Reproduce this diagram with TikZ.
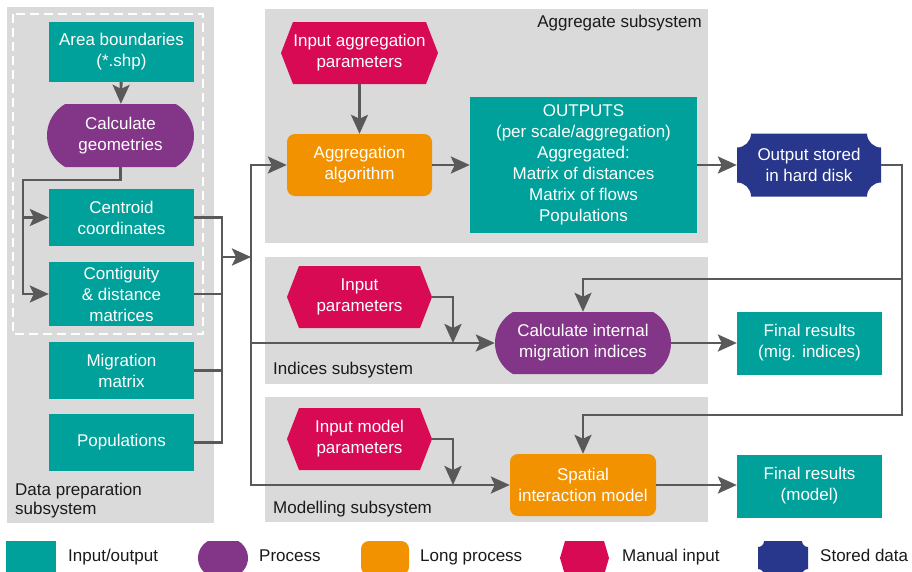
\documentclass[tikz,border=0pt]{standalone}
\usepackage{fontspec}
\setmainfont{Liberation Sans}
\usetikzlibrary{arrows.meta}
\definecolor{cteal}{HTML}{00A19A}
\definecolor{cpurple}{HTML}{833688}
\definecolor{corange}{HTML}{F39200}
\definecolor{ccrim}{HTML}{D70A53}
\definecolor{cnavy}{HTML}{28378C}
\definecolor{cpanel}{HTML}{DADADA}
\definecolor{cline}{HTML}{595959}
\definecolor{ctext}{HTML}{1A1A1A}
\newcommand\nfont{\fontsize{17}{21}\selectfont}
\newcommand\ofont{\fontsize{17}{20}\selectfont}
\newcommand\pfont{\fontsize{17}{18.5}\selectfont}
\tikzset{
  nd/.style={inner sep=0pt, align=center, text=white, font=\nfont},
  ln/.style={draw=cline, line width=2.8pt},
  arr/.style={ln, -{Stealth[length=19pt,width=17pt,inset=4pt]}},
  arrb/.style={ln, {Stealth[length=19pt,width=17pt,inset=4pt]}-{Stealth[length=19pt,width=17pt,inset=4pt]}},
  lbl/.style={inner sep=0pt, text=ctext, font=\nfont},
}
% name, x, y, w, h, text
\newcommand\ionode[6]{\node[nd,fill=cteal,minimum width=#4pt,minimum height=#5pt] (#1) at (#2,-#3) {#6};}
\newcommand\longnode[6]{\node[nd,fill=corange,rounded corners=8pt,minimum width=#4pt,minimum height=#5pt] (#1) at (#2,-#3) {#6};}
\newcommand\procnode[6]{%
  \fill[cpurple] ({#2-#4/2+#5*0.288675},{-#3+#5/2}) -- ({#2+#4/2-#5*0.288675},{-#3+#5/2})
    arc[start angle=60,end angle=-60,radius={#5*0.57735}]
    -- ({#2-#4/2+#5*0.288675},{-#3-#5/2})
    arc[start angle=240,end angle=120,radius={#5*0.57735}] -- cycle;
  \node[nd,minimum width=#4pt,minimum height=#5pt] (#1) at (#2,-#3) {#6};}
% name, x, y, w, h, indent, text
\newcommand\hexnode[7]{%
  \fill[ccrim] ({#2-#4/2},-#3) -- ({#2-#4/2+#6},{-#3+#5/2}) -- ({#2+#4/2-#6},{-#3+#5/2})
    -- ({#2+#4/2},-#3) -- ({#2+#4/2-#6},{-#3-#5/2}) -- ({#2-#4/2+#6},{-#3-#5/2}) -- cycle;
  \node[nd,minimum width=#4pt,minimum height=#5pt] (#1) at (#2,-#3) {#7};}
% name, x, y, w, h, r, text
\newcommand\storenode[7]{%
  \fill[cnavy] ({#2-#4/2+#6},{-#3+#5/2}) -- ({#2+#4/2-#6},{-#3+#5/2})
    arc[start angle=180,end angle=270,radius=#6] -- ({#2+#4/2},{-#3-#5/2+#6})
    arc[start angle=90,end angle=180,radius=#6] -- ({#2-#4/2+#6},{-#3-#5/2})
    arc[start angle=0,end angle=90,radius=#6] -- ({#2-#4/2},{-#3+#5/2-#6})
    arc[start angle=270,end angle=360,radius=#6] -- cycle;
  \node[nd,minimum width=#4pt,minimum height=#5pt] (#1) at (#2,-#3) {#7};}
\begin{document}
\begin{tikzpicture}[x=1pt,y=1pt]
\clip (0,0) rectangle (912,-571);
\fill[white] (0,0) rectangle (912,-571);
% panels
\fill[cpanel] (7,-7) rectangle (214,-523);
\fill[cpanel] (265,-9) rectangle (708,-243);
\fill[cpanel] (265,-257) rectangle (708,-384);
\fill[cpanel] (265,-397) rectangle (708,-522);
\draw[white, line width=2.5pt, dash pattern=on 9pt off 5pt] (13,-14) rectangle (203,-334);
% labels
\node[lbl,anchor=base east] (lagg) at (702,-27) {Aggregate subsystem};
\node[lbl,anchor=base west] (lind) at (273,-374) {Indices subsystem};
\node[lbl,anchor=base west] (lmod) at (273,-513) {Modelling subsystem};
\node[lbl,anchor=north west,align=left,font=\pfont] (lprep) at (15,-483) {Data preparation\\subsystem};
% data preparation
\ionode{area}{121.5}{52}{145}{60}{Area boundaries\\(*.shp)}
\procnode{geom}{120.5}{135.5}{147}{63}{Calculate\\geometries}
\ionode{centroid}{121.5}{217.5}{145}{57}{Centroid\\coordinates}
\ionode{contig}{121.5}{294}{145}{64}{Contiguity\\\& distance\\matrices}
\ionode{migm}{121.5}{370.5}{145}{57}{Migration\\matrix}
\ionode{pops}{121.5}{442.5}{145}{57}{Populations}
% aggregate
\hexnode{inagg}{359.5}{53}{157}{62}{12}{Input aggregation\\parameters}
\longnode{agg}{359.5}{165}{145}{62}{Aggregation\\algorithm}
\ionode{outputs}{583.5}{165}{227}{136}{\ofont OUTPUTS\\(per scale/aggregation)\\Aggregated:\\Matrix of distances\\Matrix of flows\\Populations}
\storenode{stored}{809}{165}{144}{63}{14}{Output stored\\in hard disk}
% indices
\hexnode{inpar}{359.5}{297}{145}{62}{12}{Input\\parameters}
\procnode{calcint}{583}{343}{176}{62}{Calculate internal\\migration indices}
\ionode{final1}{809.5}{343}{145}{63}{Final results\\(mig. indices)}
% modelling
\hexnode{inmod}{359.5}{439}{145}{62}{12}{Input model\\parameters}
\longnode{spatial}{583}{485}{146}{62}{Spatial\\interaction model}
\ionode{final2}{809.5}{486}{145}{63}{Final results\\(model)}
% coordinates
\coordinate (j1) at (23,-180);
\coordinate (bus) at (222,-257);
\coordinate (trunkT) at (251,-165);
\coordinate (trunkB) at (251,-485);
\coordinate (r1) at (902,-279);
\coordinate (r2) at (902,-415);
\coordinate (m1) at (453,-343);
\coordinate (m2) at (453,-485);
% connectors
\draw[arr] (area) -- (geom);
\draw[arr] (geom.south) |- (j1) |- (contig.west);
\draw[arr] (j1 |- centroid.west) -- (centroid.west);
\draw[ln] (centroid.east) -- (centroid.east -| bus) -- (pops.east -| bus) -- (pops.east);
\draw[ln] (contig.east) -- (contig.east -| bus);
\draw[ln] (migm.east) -- (migm.east -| bus);
\draw[arr] (bus) -- (bus -| trunkT);
\draw[arrb] (agg.west) -- (trunkT) -- (trunkB) -- (spatial.west);
\draw[arr] (trunkT |- calcint.west) -- (calcint.west);
\draw[arr] (inagg) -- (agg);
\draw[arr] (agg) -- (outputs);
\draw[arr] (outputs) -- (stored);
\draw[arr] (stored.east) -| (r2) -| (spatial.north);
\draw[arr] (r1) -| (calcint.north);
\draw[arr] (inpar.east) -| (m1);
\draw[arr] (inmod.east) -| (m2);
\draw[arr] (calcint) -- (final1);
\draw[arr] (spatial.east) -- (spatial.east -| final2.west);
% legend
\ionode{lg1}{31}{558}{50}{34}{}
\procnode{lg2}{223}{558}{50}{34}{}
\longnode{lg3}{385}{558}{48}{34}{}
\hexnode{lg4}{584.5}{558}{49}{34}{5}{}
\storenode{lg5}{783}{558}{50}{34}{6}{}
\node[lbl,anchor=base west] (lt1) at (68,-561) {Input/output};
\node[lbl,anchor=base west] (lt2) at (259,-561) {Process};
\node[lbl,anchor=base west] (lt3) at (420,-561) {Long process};
\node[lbl,anchor=base west] (lt4) at (622,-561) {Manual input};
\node[lbl,anchor=base west] (lt5) at (820,-561) {Stored data};
\end{tikzpicture}
\end{document}
